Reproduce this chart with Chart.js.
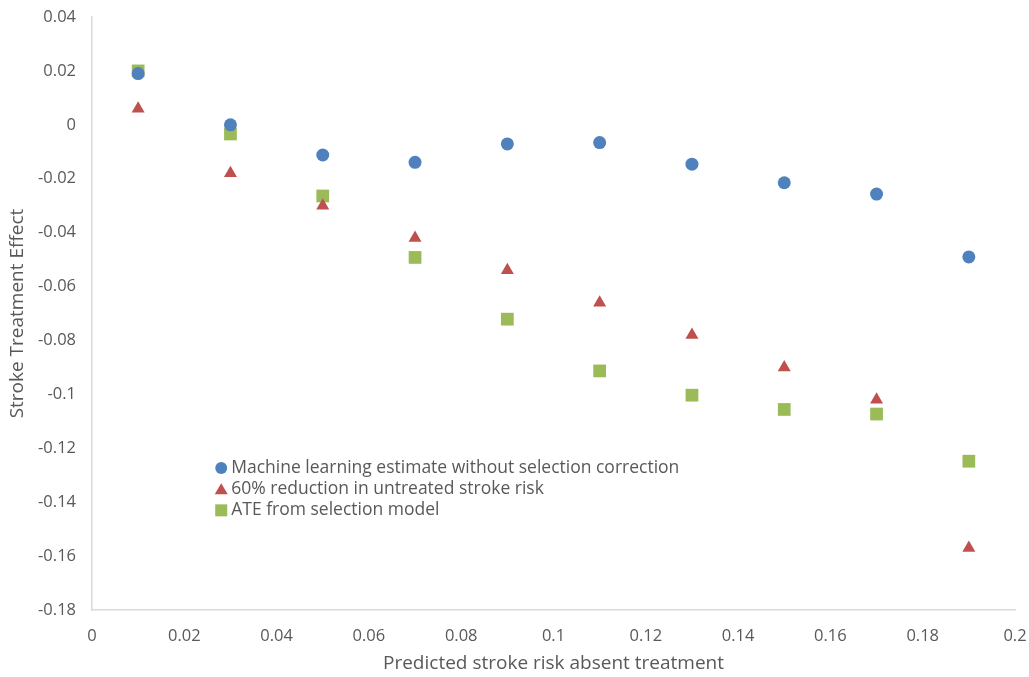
<!DOCTYPE html>
<html>
<head>
<meta charset="utf-8">
<script src="https://cdn.jsdelivr.net/npm/chart.js@4.4.1/dist/chart.umd.min.js"></script>
<style>
  html, body { margin: 0; padding: 0; background: #fff; }
  #wrap { width: 1029px; height: 677px; position: relative; }
</style>
</head>
<body>
<div id="wrap"><canvas id="chart" width="1029" height="677"></canvas></div>
<script>
// risk buckets on the x axis
const riskLevels = [0.01, 0.03, 0.05, 0.07, 0.09, 0.11, 0.13, 0.15, 0.17, 0.19];

// values
const mlEstimate = [0.019, 0.0, -0.0112, -0.0139, -0.0071, -0.0066, -0.0146, -0.0215, -0.0257, -0.049];
const reduction60 = [0.006, -0.018, -0.030, -0.042, -0.054, -0.066, -0.078, -0.090, -0.102, -0.157];
const ateSelection = [0.020, -0.0034, -0.0264, -0.0492, -0.0721, -0.0913, -0.1003, -0.1056, -0.1073, -0.1248];

const seriesNames = [
  'Machine learning estimate without selection correction',
  '60% reduction in untreated stroke risk',
  'ATE from selection model'
];

const xTicks = [0, 0.02, 0.04, 0.06, 0.08, 0.1, 0.12, 0.14, 0.16, 0.18, 0.2];
const yTicks = [0.04, 0.02, 0, -0.02, -0.04, -0.06, -0.08, -0.1, -0.12, -0.14, -0.16, -0.18];

const FONT = "'Open Sans', Lato, sans-serif";
const TXT = '#595959';

const toPoints = (vals) => riskLevels.map((x, i) => ({ x: x, y: vals[i] }));

// legend drawn inside the plot area, like the original
const insideLegend = {
  id: 'insideLegend',
  afterDraw(chart) {
    const ctx = chart.ctx;
    const xs = chart.scales.x, ys = chart.scales.y;
    const left = xs.getPixelForValue(0.028);
    const top = ys.getPixelForValue(-0.1273);
    ctx.save();
    ctx.font = '17.5px ' + FONT;
    ctx.textBaseline = 'middle';
    chart.data.datasets.forEach((ds, i) => {
      const y = top + i * 21.2;
      ctx.fillStyle = ds.backgroundColor;
      if (ds.pointStyle === 'circle') {
        ctx.beginPath(); ctx.arc(left, y, 6, 0, Math.PI * 2); ctx.fill();
      } else if (ds.pointStyle === 'triangle') {
        ctx.beginPath(); ctx.moveTo(left, y - 6); ctx.lineTo(left + 6.5, y + 5); ctx.lineTo(left - 6.5, y + 5); ctx.closePath(); ctx.fill();
      } else {
        ctx.fillRect(left - 6, y - 6, 12, 12);
      }
      ctx.fillStyle = TXT;
      ctx.fillText(ds.label, left + 10, y);
    });
    ctx.restore();
  }
};

new Chart(document.getElementById('chart'), {
  type: 'scatter',
  data: {
    datasets: [
      { label: seriesNames[0], data: toPoints(mlEstimate), pointStyle: 'circle', pointRadius: 6.5,
        backgroundColor: '#4F81BD', borderColor: '#4F81BD', borderWidth: 0 },
      { label: seriesNames[1], data: toPoints(reduction60), pointStyle: 'triangle', pointRadius: 7.5,
        backgroundColor: '#C0504D', borderColor: '#C0504D', borderWidth: 0 },
      { label: seriesNames[2], data: toPoints(ateSelection), pointStyle: 'rect', pointRadius: 9,
        backgroundColor: '#9BBB59', borderColor: '#9BBB59', borderWidth: 0 }
    ]
  },
  options: {
    responsive: false,
    animation: false,
    layout: { padding: { top: 17, right: 14, left: 0, bottom: 0 } },
    plugins: { legend: { display: false }, tooltip: { enabled: false } },
    scales: {
      x: {
        type: 'linear', min: 0, max: 0.2,
        afterBuildTicks: (s) => { s.ticks = xTicks.map(v => ({ value: v })); },
        afterFit: (s) => { s.height = 67; s.paddingLeft = 0; s.paddingRight = 0; },
        grid: { display: true, drawOnChartArea: false, drawTicks: false },
        border: { display: true, color: '#D9D9D9', width: 1.5 },
        ticks: { color: TXT, font: { family: FONT, size: 16.5 }, padding: 16, maxRotation: 0,
                 callback: (v) => String(+v.toFixed(2)) },
        title: { display: true, text: 'Predicted stroke risk absent treatment', color: TXT,
                 font: { family: FONT, size: 19 }, padding: { top: 4, bottom: 2 } }
      },
      y: {
        type: 'linear', min: -0.18, max: 0.04,
        afterBuildTicks: (s) => { s.ticks = yTicks.map(v => ({ value: v })); },
        afterFit: (s) => { s.width = 92; s.paddingTop = 0; s.paddingBottom = 0; },
        grid: { display: true, drawOnChartArea: false, drawTicks: false },
        border: { display: true, color: '#D9D9D9', width: 1.5 },
        ticks: { color: TXT, font: { family: FONT, size: 16.5 }, padding: 16,
                 callback: (v) => String(+v.toFixed(2)) },
        title: { display: true, text: 'Stroke Treatment Effect', color: TXT,
                 font: { family: FONT, size: 19 }, padding: { top: 6, bottom: 4 } }
      }
    }
  },
  plugins: [insideLegend]
});
</script>
</body>
</html>
